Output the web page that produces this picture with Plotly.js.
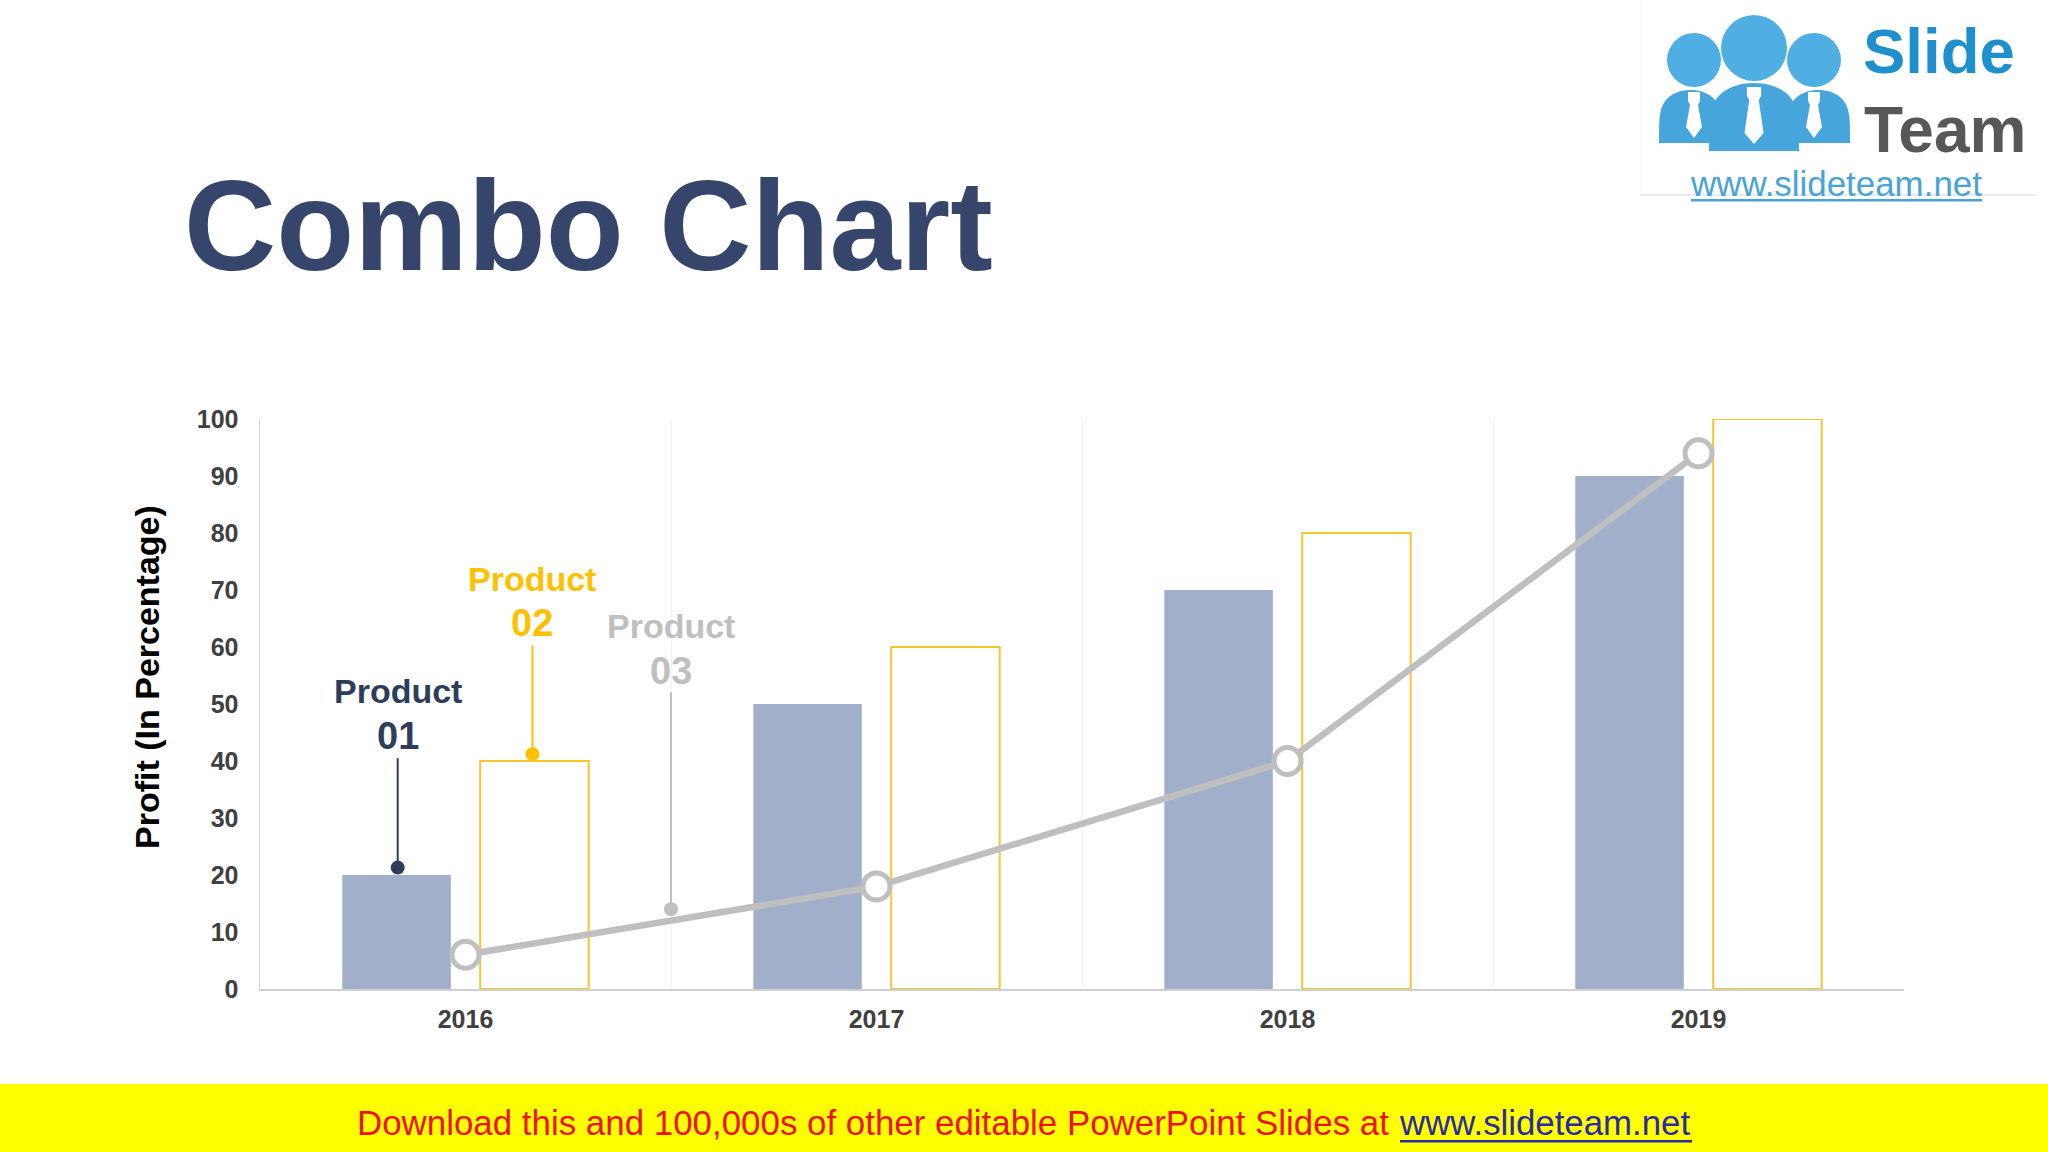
<!DOCTYPE html>
<html><head><meta charset="utf-8">
<script src="https://cdn.plot.ly/plotly-3.0.1.min.js"></script>
<style>html,body{margin:0;padding:0;background:#fff}#c{width:2048px;height:1152px}</style>
</head><body><div id="c"></div>
<script>
const categories = ['2016','2017','2018','2019'];
const categoryIndex = [0,1,2,3];
const product01 = [20,50,70,90];
const product02 = [40,60,80,100];
const product03 = [6,18,40,94];
const yTicks = [0,10,20,30,40,50,60,70,80,90,100];
const boundaries = [0.5,1.5,2.5,3.5];
const calloutX = [-0.165,0.163,0.5];
const calloutTop = [40.5,60.3,52];
const calloutBottom = [21.3,41.2,14];
const calloutWord = ['Product','Product','Product'];
const calloutNum = ['01','02','03'];
const calloutWordY = [52.2,72.0,63.7];
const calloutNumY = [44.3,64.2,55.8];
const calloutColor = ['#2F3C5C','#FFC000','#BFBFBF'];

const L=260,R=1904,T=419,B=989;
const PX=x=>(x-L)/(R-L), PY=y=>(B-y)/(B-T);
const font='"Liberation Sans", Arial, sans-serif';

const traces=[
 {type:'bar',x:categoryIndex,y:product01,marker:{color:'#A2AFCB',line:{width:0}},name:'Product 01'},
 {type:'bar',x:categoryIndex,y:product02,marker:{color:'#FFFFFF',line:{color:'#F7C62F',width:2}},name:'Product 02'},
 {type:'scatter',mode:'lines+markers',x:categoryIndex,y:product03,name:'Product 03',
  line:{color:'#BFBFBF',width:6.5},marker:{size:27,color:'#FFFFFF',line:{color:'#BFBFBF',width:5}}}
];
calloutX.forEach((cx,i)=>traces.push({type:'scatter',mode:'lines+markers',x:[cx,cx],y:[calloutTop[i],calloutBottom[i]],
  line:{color:calloutColor[i],width:2},marker:{size:[0,14],color:calloutColor[i],opacity:1,line:{width:0}},showlegend:false}));

const ann=[];
calloutX.forEach((cx,i)=>{
 ann.push({x:cx,y:calloutWordY[i],xref:'x',yref:'y',text:calloutWord[i],showarrow:false,xanchor:'center',yanchor:'middle',
  font:{family:font,size:34,color:calloutColor[i],weight:700}});
 ann.push({x:cx,y:calloutNumY[i],xref:'x',yref:'y',text:calloutNum[i],showarrow:false,xanchor:'center',yanchor:'middle',
  font:{family:font,size:38,color:calloutColor[i],weight:700}});
});
const txt=(x,y,t,size,color,anchor,weight,angle)=>ann.push({x:PX(x),y:PY(y),xref:'paper',yref:'paper',text:t,showarrow:false,
  xanchor:anchor||'left',yanchor:'middle',textangle:angle||0,font:{family:font,size,color,weight:weight||400}});
txt(355,1122,'Download this and 100,000s of other editable PowerPoint Slides at',34.9,'#F01010');
txt(1397,1122,'www.slideteam.net',34.8,'#2A2AA8');
txt(1861,51,'Slide',63.5,'#1E90CE','left',700);
txt(1862,130,'Team',64,'#575757','left',700);
txt(1688,183,'www.slideteam.net',34.9,'#4AA3D5');
txt(147,677,'Profit (In Percentage)',34,'#000000','center',700,-90);

const rectP=(x0,y0,x1,y1,fill)=>({type:'rect',xref:'paper',yref:'paper',x0:PX(x0),y0:PY(y0),x1:PX(x1),y1:PY(y1),fillcolor:fill,line:{width:0},layer:'above'});
const circ=(cx,cy,r,fill)=>({type:'circle',xref:'paper',yref:'paper',x0:PX(cx-r),x1:PX(cx+r),y0:PY(cy-r),y1:PY(cy+r),fillcolor:fill,line:{width:0},layer:'above'});
const poly=(pts,fill)=>({type:'path',xref:'paper',yref:'paper',path:'M'+pts.map(p=>PX(p[0])+','+PY(p[1])).join('L')+'Z',fillcolor:fill,line:{width:0},layer:'above'});
const body=(x0,x1,top,bot,fill)=>{const w=x1-x0,h=bot-top;const c=(x0+x1)/2,pts=[];
 for(let k=0;k<=32;k++){const a=Math.PI*k/32;pts.push([c-Math.cos(a)*w/2,bot-Math.pow(Math.sin(a),0.45)*h]);}
 return poly(pts,fill);};
const tie=(c,top,hw,bot)=>poly([[c-hw*0.75,top],[c+hw*0.75,top],[c+hw*0.75,top+9],[c+hw*0.5,top+13],[c+hw,bot-11],[c,bot],[c-hw,bot-11],[c-hw*0.5,top+13],[c-hw*0.75,top+9]],'#FFFFFF');
const blue='#4FAFE3',blue2='#46A6DC';
const shapes=[
 rectP(0,1084,2048,1152,'#FFFF00'),
 rectP(1400,1140,1692,1142.5,'#2A2AA8'),
 rectP(1640,194.5,2036,195.5,'#D8D8D8'),
 rectP(1640,0,1641,195,'#F6F6F6'),
 rectP(1691,199,1982,201.5,'#4AA3D5'),
 body(1659,1722,90,143,blue2), body(1787,1850,90,143,blue2),
 circ(1694,60,27,blue), circ(1814,60,27,blue),
 body(1709,1799,83,151,blue2),
 circ(1754,48,33,blue),
 tie(1694,92,8,138), tie(1754,87,9.5,144), tie(1814,92,8,138)
];

const layout={
 width:2048,height:1152,paper_bgcolor:'#FFFFFF',plot_bgcolor:'#FFFFFF',showlegend:false,
 barmode:'group',bargap:0.329,bargroupgap:0.213,
 margin:{l:L,r:2048-R,t:T,b:1152-B,pad:0},
 title:{text:'Combo Chart',x:184/2048,xanchor:'left',xref:'container',y:1-225/1152,yanchor:'middle',yref:'container',
  font:{family:font,size:127.7,color:'#36456B',weight:700}},
 xaxis:{type:'linear',range:[-0.5,3.5],tickmode:'array',tickvals:categoryIndex,ticktext:categories,showgrid:false,zeroline:false,
  showline:true,linecolor:'#CFCFD8',linewidth:1.5,ticks:'outside',ticklen:7,tickcolor:'rgba(0,0,0,0)',
  tickfont:{family:font,size:25,color:'#404040',weight:700},
  minor:{tickmode:'array',tickvals:boundaries,showgrid:true,gridcolor:'#F1F1F4',gridwidth:1,ticks:''}},
 yaxis:{range:[0,100],tickmode:'array',tickvals:yTicks,showgrid:false,zeroline:false,showline:true,linecolor:'#CFCFD8',linewidth:1.5,
  ticks:'outside',ticklen:15,tickcolor:'rgba(0,0,0,0)',tickfont:{family:font,size:25,color:'#404040',weight:700}},
 annotations:ann,shapes:shapes
};
Plotly.newPlot('c',traces,layout,{staticPlot:true,displayModeBar:false});
</script></body></html>
